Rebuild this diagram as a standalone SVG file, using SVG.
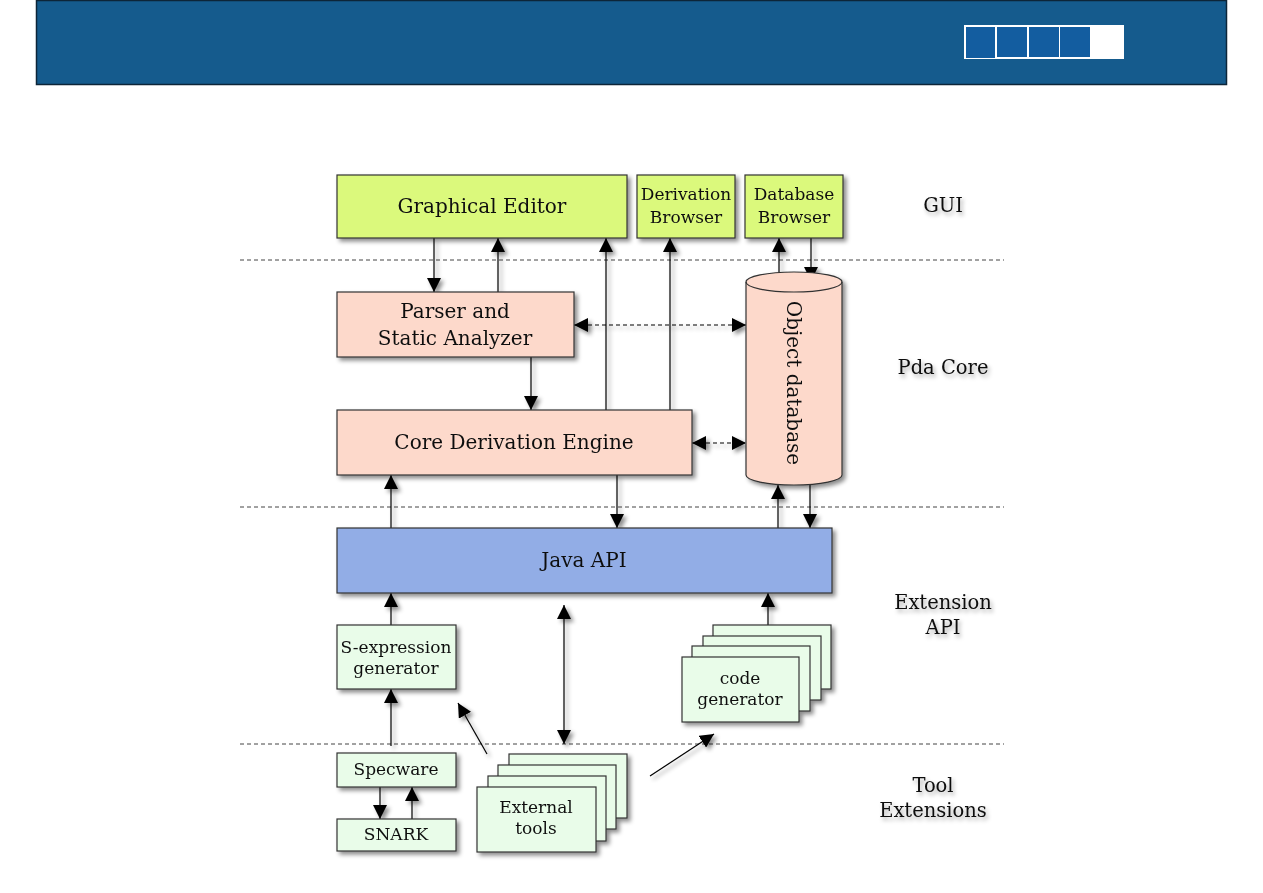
<svg xmlns="http://www.w3.org/2000/svg" width="1263" height="893" viewBox="0 0 1263 893">
<defs>
<filter id="sh" x="-20%" y="-20%" width="140%" height="150%">
<feDropShadow dx="3" dy="3" stdDeviation="2" flood-color="#000" flood-opacity="0.45"/>
</filter>
<filter id="tsh" x="-20%" y="-40%" width="140%" height="180%">
<feDropShadow dx="2" dy="3" stdDeviation="2" flood-color="#000" flood-opacity="0.35"/>
</filter>
<marker id="ah" viewBox="0 0 14 14" refX="14" refY="7" markerWidth="14" markerHeight="14" markerUnits="userSpaceOnUse" orient="auto-start-reverse">
<path d="M0,0 L14,7 L0,14 z" fill="#000"/>
</marker>
<style>
.box{stroke:#333;stroke-width:1.2}
.gui{fill:#dbf97c}
.core{fill:#fdd9cb}
.api{fill:#92ade6}
.ext{fill:#e9fce9}
.t{font-family:"DejaVu Serif","Liberation Serif",serif;fill:#111;text-anchor:middle}
.big{font-size:20px}
.sm{font-size:17px}
.lay{font-family:"DejaVu Serif","Liberation Serif",serif;fill:#111;text-anchor:middle;font-size:19.5px}
.sep{stroke:#444;stroke-width:1;stroke-dasharray:4 3;fill:none}
.c{stroke:#000;stroke-width:1.2;fill:none}
.cd{stroke:#000;stroke-width:1.2;fill:none;stroke-dasharray:4 3}
</style>
</defs>
<rect width="1263" height="893" fill="#fff"/>
<g id="header">
<rect x="36.5" y="0.5" width="1190" height="84" fill="#155b8d" stroke="#0d2538" stroke-width="1.5"/>
<rect x="964" y="25" width="160" height="34" fill="#fff"/>
<rect x="966" y="27" width="29" height="31" fill="#135da0"/>
<rect x="997" y="27" width="30" height="30" fill="#135da0"/>
<rect x="1029" y="27" width="30" height="30" fill="#135da0"/>
<rect x="1060" y="27" width="30" height="30" fill="#135da0"/>
</g>
<g id="separators">
<line class="sep" x1="240" y1="260" x2="1004" y2="260"/>
<line class="sep" x1="240" y1="507" x2="1004" y2="507"/>
<line class="sep" x1="240" y1="744" x2="1004" y2="744"/>
</g>
<g id="layer-labels" filter="url(#tsh)">
<text class="lay" x="943" y="212">GUI</text>
<text class="lay" x="943" y="374">Pda Core</text>
<text class="lay" x="943" y="609">Extension</text>
<text class="lay" x="943" y="634">API</text>
<text class="lay" x="933" y="792">Tool</text>
<text class="lay" x="933" y="817">Extensions</text>
</g>
<g id="connectors" filter="url(#sh)">
<line class="c" x1="434" y1="238" x2="434" y2="292" marker-end="url(#ah)"/>
<line class="c" x1="498" y1="292" x2="498" y2="238" marker-end="url(#ah)"/>
<line class="c" x1="606" y1="410" x2="606" y2="238" marker-end="url(#ah)"/>
<line class="c" x1="670" y1="410" x2="670" y2="238" marker-end="url(#ah)"/>
<line class="c" x1="779" y1="284" x2="779" y2="238" marker-end="url(#ah)"/>
<line class="c" x1="811" y1="238" x2="811" y2="281" marker-end="url(#ah)"/>
<line class="cd" x1="574" y1="325" x2="746" y2="325" marker-start="url(#ah)" marker-end="url(#ah)"/>
<line class="cd" x1="692" y1="443" x2="746" y2="443" marker-start="url(#ah)" marker-end="url(#ah)"/>
<line class="c" x1="531" y1="357" x2="531" y2="410" marker-end="url(#ah)"/>
<line class="c" x1="391" y1="528" x2="391" y2="475" marker-end="url(#ah)"/>
<line class="c" x1="617" y1="475" x2="617" y2="528" marker-end="url(#ah)"/>
<line class="c" x1="778" y1="528" x2="778" y2="485" marker-end="url(#ah)"/>
<line class="c" x1="810" y1="483" x2="810" y2="528" marker-end="url(#ah)"/>
<line class="c" x1="391" y1="625" x2="391" y2="593" marker-end="url(#ah)"/>
<line class="c" x1="768" y1="625" x2="768" y2="593" marker-end="url(#ah)"/>
<line class="c" x1="564" y1="605" x2="564" y2="744" marker-start="url(#ah)" marker-end="url(#ah)"/>
<line class="c" x1="391" y1="746" x2="391" y2="689" marker-end="url(#ah)"/>
<line class="c" x1="487" y1="754" x2="458" y2="703" marker-end="url(#ah)"/>
<line class="c" x1="650" y1="776" x2="714" y2="734" marker-end="url(#ah)"/>
<line class="c" x1="380" y1="787" x2="380" y2="819" marker-end="url(#ah)"/>
<line class="c" x1="412" y1="819" x2="412" y2="787" marker-end="url(#ah)"/>
</g>
<g id="graphical-editor" filter="url(#sh)">
<rect class="box gui" x="337" y="175" width="290" height="63"/>
<text class="t big" x="482" y="213">Graphical Editor</text>
</g>
<g id="derivation-browser" filter="url(#sh)">
<rect class="box gui" x="637" y="175" width="98" height="63"/>
<text class="t sm" x="686" y="200">Derivation</text>
<text class="t sm" x="686" y="223">Browser</text>
</g>
<g id="database-browser" filter="url(#sh)">
<rect class="box gui" x="745" y="175" width="98" height="63"/>
<text class="t sm" x="794" y="200">Database</text>
<text class="t sm" x="794" y="223">Browser</text>
</g>
<g id="parser" filter="url(#sh)">
<rect class="box core" x="337" y="292" width="237" height="65"/>
<text class="t big" x="455" y="318">Parser and</text>
<text class="t big" x="455" y="345">Static Analyzer</text>
</g>
<g id="core-engine" filter="url(#sh)">
<rect class="box core" x="337" y="410" width="355" height="65"/>
<text class="t big" x="514" y="449">Core Derivation Engine</text>
</g>
<g id="object-database" filter="url(#sh)">
<path class="box core" d="M746,282 L746,475 A48,10 0 0 0 842,475 L842,282 A48,10 0 0 0 746,282 z"/>
<path class="box" fill="none" d="M746,282 A48,10 0 0 0 842,282"/>
<text class="t big" transform="translate(787,383) rotate(90)" x="0" y="0">Object database</text>
</g>
<g id="java-api" filter="url(#sh)">
<rect class="box api" x="337" y="528" width="495" height="65"/>
<text class="t big" x="584" y="567">Java API</text>
</g>
<g id="s-expression" filter="url(#sh)">
<rect class="box ext" x="337" y="625" width="119" height="64"/>
<text class="t sm" x="396" y="653">S-expression</text>
<text class="t sm" x="396" y="674">generator</text>
</g>
<g id="code-generator" filter="url(#sh)">
<rect class="box ext" x="713" y="625" width="118" height="64"/>
<rect class="box ext" x="703" y="636" width="118" height="64"/>
<rect class="box ext" x="692" y="646" width="118" height="65"/>
<rect class="box ext" x="682" y="657" width="117" height="65"/>
<text class="t sm" x="740" y="684">code</text>
<text class="t sm" x="740" y="705">generator</text>
</g>
<g id="specware" filter="url(#sh)">
<rect class="box ext" x="337" y="753" width="119" height="34"/>
<text class="t sm" x="396" y="775">Specware</text>
</g>
<g id="snark" filter="url(#sh)">
<rect class="box ext" x="337" y="819" width="119" height="32"/>
<text class="t sm" x="396" y="840">SNARK</text>
</g>
<g id="external-tools" filter="url(#sh)">
<rect class="box ext" x="509" y="754" width="118" height="64"/>
<rect class="box ext" x="498" y="765" width="118" height="64"/>
<rect class="box ext" x="488" y="776" width="118" height="65"/>
<rect class="box ext" x="477" y="787" width="119" height="65"/>
<text class="t sm" x="536" y="813">External</text>
<text class="t sm" x="536" y="834">tools</text>
</g>
</svg>
